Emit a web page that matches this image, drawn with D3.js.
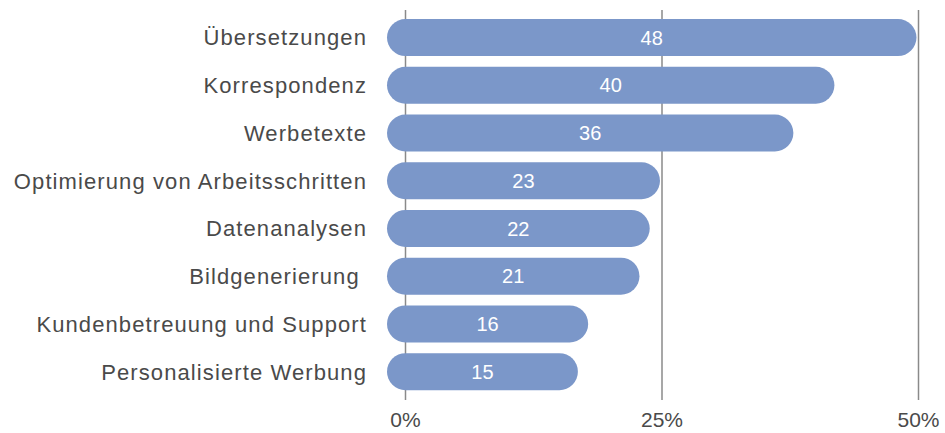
<!DOCTYPE html>
<html>
<head>
<meta charset="utf-8">
<script src="https://cdn.jsdelivr.net/npm/d3@7"></script>
<style>
  body { margin: 0; background: #fff; }
  text { font-family: "Liberation Sans", Arial, sans-serif; }
</style>
</head>
<body>
<script>
var categories = ["Übersetzungen", "Korrespondenz", "Werbetexte", "Optimierung von Arbeitsschritten",
                  "Datenanalysen", "Bildgenerierung ", "Kundenbetreuung und Support", "Personalisierte Werbung"];
var values = [48, 40, 36, 23, 22, 21, 16, 15];
var ticks = [0, 25, 50];

var width = 945, height = 433;
var barH = 37, r = barH / 2;

var svg = d3.select("body").append("svg")
    .attr("width", width)
    .attr("height", height);

var x = d3.scaleLinear().domain([0, 50]).range([405.5, 918.5]);
var y = d3.scaleBand().domain(categories).range([14.2, 395]).paddingInner(0.222).paddingOuter(0.1);

// gridlines
svg.append("g").selectAll("line")
    .data(ticks)
    .enter().append("line")
    .attr("x1", function(d) { return x(d); })
    .attr("x2", function(d) { return x(d); })
    .attr("y1", 10)
    .attr("y2", 400)
    .attr("stroke", "#8a8a8a")
    .attr("stroke-width", 1.5);

// tick labels
svg.append("g").selectAll("text")
    .data(ticks)
    .enter().append("text")
    .attr("x", function(d) { return x(d); })
    .attr("y", 427)
    .attr("text-anchor", "middle")
    .attr("fill", "#4a4a4a")
    .style("font-size", "21px")
    .text(function(d) { return d + "%"; });

// bars (pill shaped, caps extend past value)
svg.append("g").selectAll("rect")
    .data(values)
    .enter().append("rect")
    .attr("x", x(0) - r)
    .attr("y", function(d, i) { return y(categories[i]) + y.bandwidth() / 2 - r; })
    .attr("width", function(d) { return x(d) - x(0) + barH; })
    .attr("height", barH)
    .attr("rx", r)
    .attr("fill", "#7b97c9");

// value labels
svg.append("g").selectAll("text")
    .data(values)
    .enter().append("text")
    .attr("x", function(d) { return (x(0) + x(d)) / 2; })
    .attr("y", function(d, i) { return y(categories[i]) + y.bandwidth() / 2; })
    .attr("dy", "0.36em")
    .attr("text-anchor", "middle")
    .attr("fill", "#fff")
    .style("font-size", "20px")
    .text(function(d) { return d; });

// category labels
svg.append("g").selectAll("text")
    .data(categories)
    .enter().append("text")
    .attr("x", 367)
    .attr("y", function(d) { return y(d) + y.bandwidth() / 2; })
    .attr("dy", "0.36em")
    .attr("text-anchor", "end")
    .attr("fill", "#4a4a4a")
    .style("font-size", "22px")
    .style("letter-spacing", "1.1px")
    .style("white-space", "pre")
    .text(function(d) { return d; });
</script>
</body>
</html>
